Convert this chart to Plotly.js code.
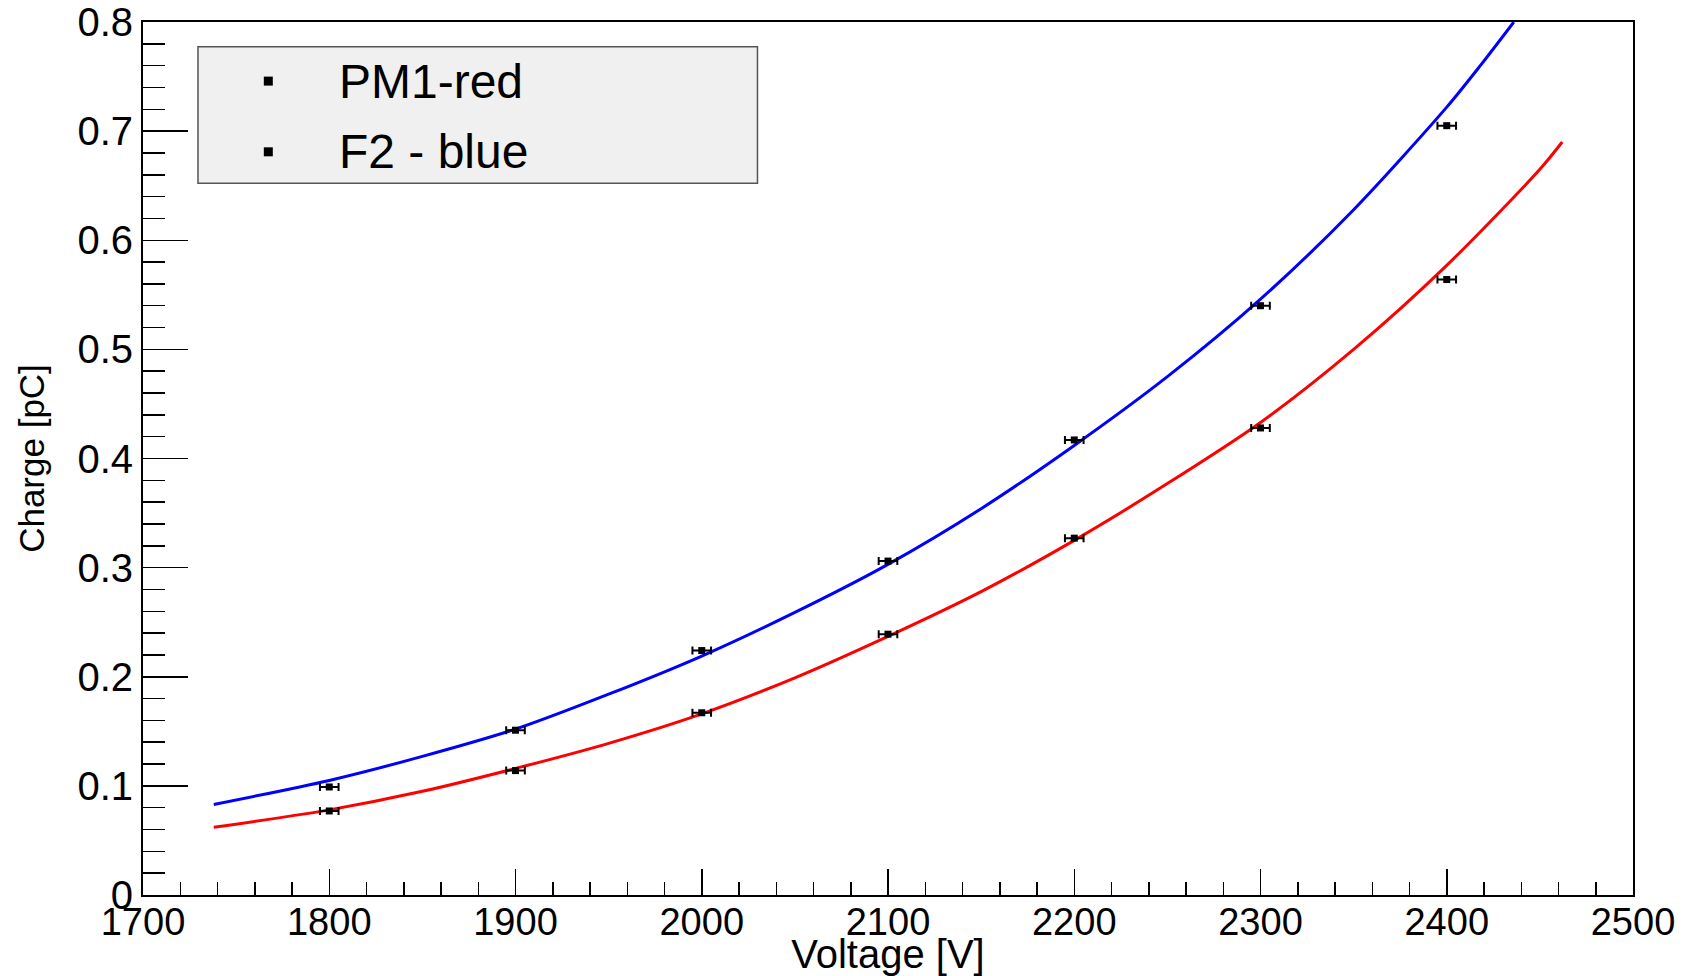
<!DOCTYPE html>
<html>
<head>
<meta charset="utf-8">
<script src="https://cdn.plot.ly/plotly-3.0.1.min.js"></script>
<style>
  html, body { margin: 0; padding: 0; background: #ffffff; }
  #chart { width: 1687px; height: 976px; }
</style>
</head>
<body>
<div id="chart"></div>
<script>
// ---- data ----
const legendNames = ["PM1-red", "F2 - blue"];

// measured points (Voltage [V] vs Charge [pC])
const voltage = [1800, 1900, 2000, 2100, 2200, 2300, 2400];
const chargePM1 = [0.077, 0.114, 0.167, 0.239, 0.327, 0.428, 0.564];
const chargeF2  = [0.099, 0.151, 0.224, 0.306, 0.417, 0.540, 0.705];
const voltageErr = [5, 5, 5, 5, 5, 5, 5];

// fitted curves
const fitVoltagePM1 = [1738, 1800, 1850, 1900, 1950, 2000, 2050, 2100, 2150, 2200, 2250, 2300, 2350, 2400, 2450, 2462];
const fitChargePM1  = [0.062, 0.078, 0.095, 0.116, 0.139, 0.166, 0.199, 0.237, 0.278, 0.325, 0.377, 0.433, 0.500, 0.577, 0.665, 0.690];
const fitVoltageF2  = [1738, 1800, 1850, 1900, 1950, 2000, 2050, 2100, 2150, 2200, 2250, 2300, 2350, 2400, 2418, 2436];
const fitChargeF2   = [0.083, 0.105, 0.127, 0.152, 0.184, 0.219, 0.259, 0.303, 0.354, 0.412, 0.475, 0.546, 0.628, 0.722, 0.760, 0.800];

// axis ranges
const xRange = [1700, 2500];
const yRange = [0, 0.8];

// ---- traces ----
const FONT = "Liberation Sans, Arial, Helvetica, sans-serif";

const traces = [
  {
    x: fitVoltageF2, y: fitChargeF2, type: "scatter", mode: "lines",
    line: { color: "#0000ff", width: 3, shape: "spline", smoothing: 0.8 },
    showlegend: false, hoverinfo: "skip"
  },
  {
    x: fitVoltagePM1, y: fitChargePM1, type: "scatter", mode: "lines",
    line: { color: "#ff0000", width: 3, shape: "spline", smoothing: 0.8 },
    showlegend: false, hoverinfo: "skip"
  },
  {
    name: legendNames[0],
    x: voltage, y: chargePM1, type: "scatter", mode: "markers",
    marker: { symbol: "square", size: 7, color: "#000000" },
    error_x: { type: "data", array: voltageErr, visible: true, color: "#000000", thickness: 2, width: 4 },
    showlegend: false
  },
  {
    name: legendNames[1],
    x: voltage, y: chargeF2, type: "scatter", mode: "markers",
    marker: { symbol: "square", size: 7, color: "#000000" },
    error_x: { type: "data", array: voltageErr, visible: true, color: "#000000", thickness: 2, width: 4 },
    showlegend: false
  }
];

// ---- manual ROOT-style legend (box, markers, text) ----
const legBox = { x0: 0.0369, x1: 0.4124, y0: 0.8152, y1: 0.9717 };
const legRowsY = [0.9323, 0.8513];
const legMarkX = 0.0841;
const legTextX = 0.1300;

const shapes = [
  {
    type: "rect", xref: "paper", yref: "paper",
    x0: legBox.x0, x1: legBox.x1, y0: legBox.y0, y1: legBox.y1,
    fillcolor: "#f0f0f0", line: { color: "#555555", width: 1.5 }, layer: "above"
  }
];
const annotations = [];
legendNames.forEach((name, i) => {
  shapes.push({
    type: "rect", xref: "paper", yref: "paper",
    xsizemode: "pixel", ysizemode: "pixel",
    xanchor: legMarkX, yanchor: legRowsY[i],
    x0: -4.5, x1: 4.5, y0: -4.5, y1: 4.5,
    fillcolor: "#000000", line: { width: 0 }, layer: "above"
  });
  annotations.push({
    xref: "paper", yref: "paper", x: legTextX, y: legRowsY[i],
    xanchor: "left", yanchor: "middle", showarrow: false,
    text: name, font: { family: FONT, size: 48, color: "#000000" }
  });
});

const layout = {
  width: 1687, height: 976,
  margin: { l: 143, r: 54, t: 22, b: 81, pad: 0 },
  paper_bgcolor: "#ffffff", plot_bgcolor: "#ffffff",
  showlegend: false,
  font: { family: FONT, color: "#000000" },
  xaxis: {
    range: xRange, tick0: 1700, dtick: 100,
    ticks: "inside", ticklen: 26, tickwidth: 1.5, tickcolor: "#000000",
    minor: { dtick: 20, ticks: "inside", ticklen: 13, tickwidth: 1.5, tickcolor: "#000000" },
    showline: true, linecolor: "#000000", linewidth: 2, mirror: true,
    showgrid: false, zeroline: false,
    ticklabelstandoff: -8,
    tickfont: { family: FONT, size: 38, color: "#000000" },
    title: { text: "Voltage [V]", font: { family: FONT, size: 40, color: "#000000" }, standoff: 0 },
    automargin: false
  },
  yaxis: {
    range: yRange, tick0: 0, dtick: 0.1,
    ticks: "inside", ticklen: 45, tickwidth: 1.5, tickcolor: "#000000",
    minor: { dtick: 0.02, ticks: "inside", ticklen: 22, tickwidth: 1.5, tickcolor: "#000000" },
    showline: true, linecolor: "#000000", linewidth: 2, mirror: true,
    showgrid: false, zeroline: false,
    tickfont: { family: FONT, size: 40, color: "#000000" },
    title: { text: "Charge [pC]", font: { family: FONT, size: 35, color: "#000000" }, standoff: 22 },
    automargin: false
  },
  shapes: shapes,
  annotations: annotations
};

Plotly.newPlot("chart", traces, layout, { staticPlot: true, displayModeBar: false });
</script>
</body>
</html>
